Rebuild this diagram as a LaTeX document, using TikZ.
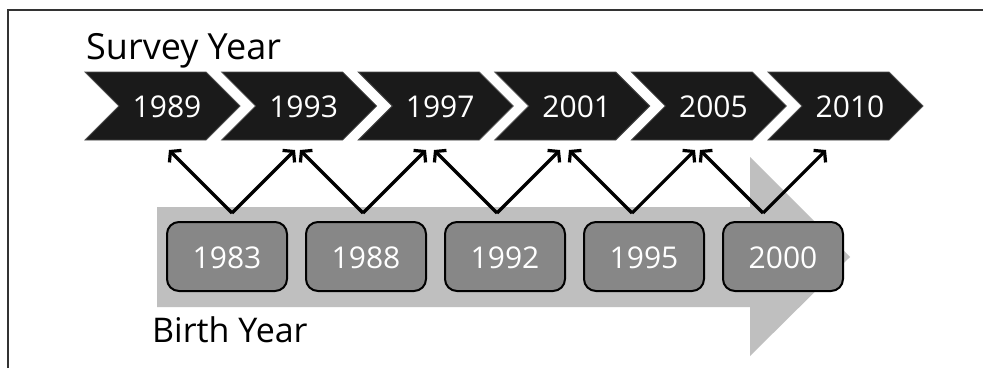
\documentclass[tikz,border=0pt]{standalone}
\usepackage{fontspec}
\setmainfont{Open Sans}
\usetikzlibrary{arrows.meta}
\definecolor{chev}{RGB}{26,26,26}
\definecolor{band}{RGB}{191,191,191}
\definecolor{boxfill}{RGB}{135,135,135}
\tikzset{
  chevron/.style={fill=chev,draw=black!70,line width=0.8pt},
  yeartext/.style={text=white,font=\fontsize{30}{34}\selectfont,inner sep=0pt,anchor=base},
  birthbox/.style={draw=black,line width=2pt,fill=boxfill,rounded corners=12pt,
    minimum width=120pt,minimum height=69pt,inner sep=0pt,text=white,
    font=\fontsize{30}{34}\selectfont},
  link/.style={line width=3.2pt,-{Straight Barb[length=7pt,width=17pt,line width=3.2pt]}},
  title/.style={font=\fontsize{36}{40}\selectfont,inner sep=0pt,anchor=base west},
}
\begin{document}
\begin{tikzpicture}[x=1pt,y=-1pt]
\useasboundingbox (0,0) rectangle (983,368);
\fill[white] (0,0) rectangle (983,368);
% frame
\draw[line width=1.6pt,black!80] (8,368) -- (8,10) -- (983,10);

% broad grey arrow behind the birth years
\fill[band] (157,207) -- (750,207) -- (750,157) -- (850,257) -- (750,356)
  -- (750,307) -- (157,307) -- cycle;

% survey year chevrons
\foreach \yr [count=\i from 0] in {1989,1993,1997,2001,2005,2010} {
  \pgfmathsetmacro{\L}{85+136.6*\i}
  \draw[chevron] (\L,72) -- ++(121,0) -- ++(34,34) -- ++(-34,34) -- ++(-121,0)
    -- ++(34,-34) -- cycle;
  \node[yeartext] (s\i) at (\L+82,117) {\yr};
}

% links from birth cohorts to survey years
\foreach \v [count=\i from 0] in {232,363,497,632,763} {
  \coordinate (v\i) at (\v,213);
  \coordinate (l\i) at (\v-63,150);
  \coordinate (r\i) at (\v+63,150);
  \draw[link] (v\i) -- (l\i);
  \draw[link] (v\i) -- (r\i);
}

% birth year boxes
\foreach \yr [count=\i from 0] in {1983,1988,1992,1995,2000} {
  \pgfmathsetmacro{\c}{227+139*\i}
  \node[birthbox] (b\i) at (\c,256.5) {};
  \node[yeartext] (bt\i) at (\c,268) {\yr};
}

% headings
\node[title] (survey) at (86,59) {Survey Year};
\node[title,font=\fontsize{34}{38}\selectfont] (birth) at (152,342) {Birth Year};
\end{tikzpicture}
\end{document}
